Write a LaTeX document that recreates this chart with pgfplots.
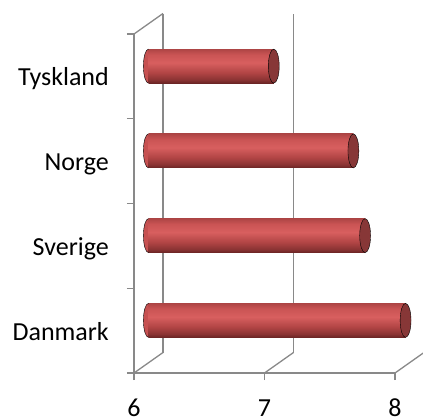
\documentclass[border=0pt]{standalone}
\usepackage{pgfplots}
\pgfplotsset{compat=1.18}
\usepackage{fontspec}
\setmainfont{Carlito}
\definecolor{framegray}{HTML}{898989}
\definecolor{capred}{HTML}{873737}
\definecolor{cylA}{HTML}{6A2424}
\definecolor{cylB}{HTML}{8A3333}
\definecolor{cylC}{HTML}{B04444}
\definecolor{cylD}{HTML}{D85F5F}
\definecolor{cylE}{HTML}{CA5454}
\definecolor{cylF}{HTML}{AE4545}
\definecolor{cylMid}{HTML}{C65151}
\pgfdeclareverticalshading{cyl}{100bp}{color(0bp)=(cylA); color(25bp)=(cylA); color(30bp)=(cylB); color(40bp)=(cylC); color(55bp)=(cylD); color(67bp)=(cylE); color(75bp)=(cylF); color(100bp)=(cylF)}
\begin{document}
\begin{tikzpicture}[x=1pt,y=1pt]
\useasboundingbox (0,0) rectangle (423,416);
\begin{axis}[
  at={(134pt,43pt)}, anchor=south west, scale only axis,
  width=261pt, height=339pt,
  xmin=6, xmax=8, ymin=-0.5, ymax=3.5,
  axis x line=bottom, axis y line=left,
  axis line style={-, draw=framegray, line width=1.3pt},
  xtick={6,7,8},
  ytick={0,1,2,3}, yticklabels={Danmark,Sverige,Norge,Tyskland},
  minor ytick={-0.5,0.5,1.5,2.5,3.5},
  tick align=outside, major tick length=7pt, minor tick length=7pt,
  major y tick style={draw=none},
  minor y tick style={draw=framegray, line width=1.3pt},
  major x tick style={draw=framegray, line width=1.3pt},
  tick label style={font=\fontsize{26}{31}\selectfont, text=black},
  xticklabel style={anchor=base, inner sep=0pt, yshift=-36.5pt},
  yticklabel style={anchor=base east, inner sep=0pt, xshift=-18pt, yshift=-9.5pt},
  /pgf/number format/assume math mode=true,
  clip=false,
]
\draw[framegray, line width=1.3pt] ([shift={(29pt,20.5pt)}]axis cs:6,-0.5) -- ([shift={(29pt,20.5pt)}]axis cs:6,3.5);
\draw[framegray, line width=1.3pt] ([shift={(29pt,20.5pt)}]axis cs:7,-0.5) -- ([shift={(29pt,20.5pt)}]axis cs:7,3.5);
\draw[framegray, line width=1.3pt] (axis cs:6,3.5) -- ([shift={(29pt,20.5pt)}]axis cs:6,3.5);
\draw[framegray, line width=1.3pt] (axis cs:6,-0.5) -- ([shift={(29pt,20.5pt)}]axis cs:6,-0.5);
\draw[framegray, line width=1.3pt] (axis cs:7,-0.5) -- ([shift={(29pt,20.5pt)}]axis cs:7,-0.5);
\draw[framegray, line width=1.3pt] (axis cs:8,-0.5) -- ([shift={(29pt,20.5pt)}]axis cs:8,-0.5);
\end{axis}
% left (base) ends of the cylinders, drawn first so the bars cover their right half
\begin{axis}[
  at={(148.5pt,53.25pt)}, anchor=south west, scale only axis,
  width=261pt, height=339pt,
  xmin=6, xmax=8, ymin=-0.5, ymax=3.5,
  hide axis, clip=false,
]
\addplot[only marks, mark=*, mark size=17pt,
  mark options={draw=none, fill=cylMid, xscale=0.3}]
  coordinates {(6,0) (6,1) (6,2) (6,3)};
\end{axis}
\begin{axis}[
  at={(148.5pt,53.25pt)}, anchor=south west, scale only axis,
  width=261pt, height=339pt,
  xmin=6, xmax=8, ymin=-0.5, ymax=3.5,
  hide axis, clip marker paths=false,
]
\addplot[xbar, bar shift=0pt, bar width=34pt, draw=none, shading=cyl] coordinates {(7.97,0)};
\addplot[xbar, bar shift=0pt, bar width=34pt, draw=none, shading=cyl] coordinates {(7.66,1)};
\addplot[xbar, bar shift=0pt, bar width=34pt, draw=none, shading=cyl] coordinates {(7.57,2)};
\addplot[xbar, bar shift=0pt, bar width=34pt, draw=none, shading=cyl] coordinates {(6.96,3)};
\addplot[only marks, mark=*, mark size=17pt,
  mark options={draw=none, fill=capred, xscale=0.32}]
  coordinates {(7.97,0) (7.66,1) (7.57,2) (6.96,3)};
\end{axis}
\end{tikzpicture}
\end{document}
